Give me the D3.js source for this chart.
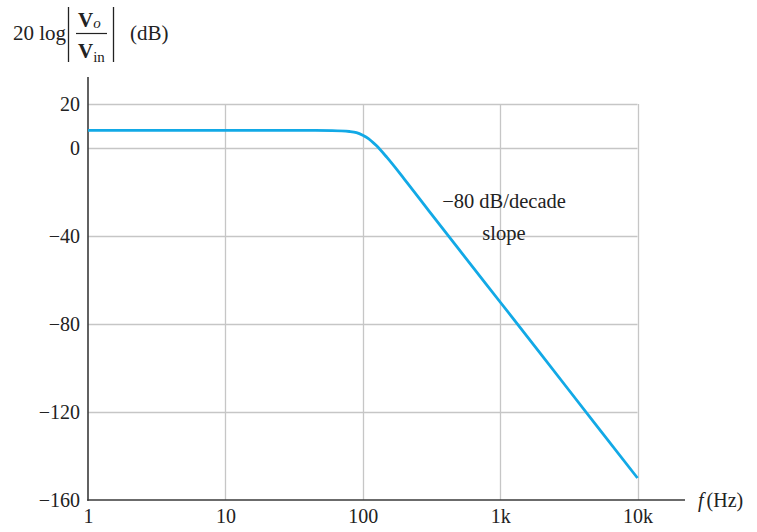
<!DOCTYPE html>
<html>
<head>
<meta charset="utf-8">
<script src="https://cdn.jsdelivr.net/npm/d3@7"></script>
<style>
  html, body { margin: 0; padding: 0; background: #fff; }
  svg { display: block; font-family: "Liberation Serif", "DejaVu Serif", serif; }
  svg text { font-family: "Liberation Serif", "DejaVu Serif", serif; }
</style>
</head>
<body>
<svg id="chart" width="757" height="532"></svg>
<script>
// ---- data ----
const freqHz = [1, 10, 40, 60, 80, 90, 100, 110, 125, 150, 200, 300, 500, 1000, 2000, 5000, 10000];
const gainDb = [8, 8, 8, 7.9, 7.5, 7.0, 5.8, 4.3, 1.2, -4.3, -14, -28.2, -46, -70, -94, -126, -150];
const xTickValues = [1, 10, 100, 1000, 10000];
const xTickLabels = ["1", "10", "100", "1k", "10k"];
const yTickValues = [20, 0, -40, -80, -120, -160];
const yTickLabels = ["20", "0", "\u221240", "\u221280", "\u2212120", "\u2212160"];
const annotationLines = ["\u221280 dB/decade", "slope"];

// ---- layout ----
const svg = d3.select("#chart");
const x = d3.scaleLog().domain([1, 10000]).range([88, 637.5]);
const y = d3.scaleLinear().domain([-160, 20]).range([500, 104]);
const gridColor = "#c6c6c6";
const axisColor = "#3a3a3a";
const curveColor = "#12a9e6";
const textColor = "#222";
const serif = '"Liberation Serif", "DejaVu Serif", serif';

// horizontal grid lines (except bottom, which is the axis)
svg.append("g").selectAll("line")
  .data(yTickValues.filter(v => v !== -160))
  .join("line")
  .attr("x1", x(1)).attr("x2", x(10000))
  .attr("y1", d => Math.round(y(d)) + 0.5).attr("y2", d => Math.round(y(d)) + 0.5)
  .attr("stroke", gridColor).attr("stroke-width", 1.3);

// vertical grid lines
svg.append("g").selectAll("line")
  .data(xTickValues.filter(v => v !== 1))
  .join("line")
  .attr("x1", d => Math.round(x(d)) + 0.5).attr("x2", d => Math.round(x(d)) + 0.5)
  .attr("y1", y(20)).attr("y2", y(-160))
  .attr("stroke", gridColor).attr("stroke-width", 1.3);

// axes lines
svg.append("line")
  .attr("x1", x(1)).attr("x2", x(1))
  .attr("y1", 77).attr("y2", y(-160) + 0.8)
  .attr("stroke", axisColor).attr("stroke-width", 1.6);
svg.append("line")
  .attr("x1", x(1) - 0.8).attr("x2", 685)
  .attr("y1", y(-160)).attr("y2", y(-160))
  .attr("stroke", axisColor).attr("stroke-width", 1.6);

// y tick labels via axis
const yAxis = d3.axisLeft(y).tickValues(yTickValues).tickSize(0).tickPadding(8)
  .tickFormat((d, i) => yTickLabels[i]);
const gy = svg.append("g").attr("transform", `translate(${x(1)},0)`).call(yAxis);
gy.attr("font-family", null).attr("font-size", null);
gy.select(".domain").remove();
gy.selectAll("text")
  .style("font-family", serif).style("font-size", "20px").attr("fill", textColor)
  .attr("dy", "0.34em");

// x tick labels via axis
const xAxis = d3.axisBottom(x).tickValues(xTickValues).tickSize(0).tickPadding(9)
  .tickFormat((d, i) => xTickLabels[i]);
const gx = svg.append("g").attr("transform", `translate(0,${y(-160)})`).call(xAxis);
gx.attr("font-family", null).attr("font-size", null);
gx.select(".domain").remove();
gx.selectAll("text")
  .style("font-family", serif).style("font-size", "20px").attr("fill", textColor);

// curve
const pts = freqHz.map((f, i) => [f, gainDb[i]]);
const line = d3.line().x(d => x(d[0])).y(d => y(d[1])).curve(d3.curveMonotoneX);
svg.append("path").datum(pts)
  .attr("d", line).attr("fill", "none")
  .attr("stroke", curveColor).attr("stroke-width", 2.8).attr("stroke-linejoin", "round");

// annotation
svg.append("g").selectAll("text")
  .data(annotationLines)
  .join("text")
  .attr("x", 504).attr("y", (d, i) => 208 + i * 32)
  .attr("text-anchor", "middle")
  .style("font-size", "20.5px").attr("fill", textColor)
  .text(d => d);

// x axis title
const xt = svg.append("text").attr("x", 698).attr("y", 507).style("font-size", "20px").attr("fill", textColor);
xt.append("tspan").attr("font-style", "italic").text("f");
xt.append("tspan").attr("dx", 3).text("(Hz)");

// y axis title: 20 log |Vo / Vin| (dB)
const t = svg.append("g").attr("fill", textColor);
t.append("text").attr("x", 13).attr("y", 40).style("font-size", "21px").text("20 log");
t.append("line").attr("x1", 68.5).attr("x2", 68.5).attr("y1", 7).attr("y2", 62)
  .attr("stroke", textColor).attr("stroke-width", 1.3);
t.append("line").attr("x1", 113.5).attr("x2", 113.5).attr("y1", 7).attr("y2", 62)
  .attr("stroke", textColor).attr("stroke-width", 1.3);
t.append("line").attr("x1", 76).attr("x2", 107).attr("y1", 33.5).attr("y2", 33.5)
  .attr("stroke", textColor).attr("stroke-width", 1.2);
const num = t.append("text").attr("x", 78).attr("y", 27).style("font-size", "21px");
num.append("tspan").attr("font-weight", "bold").text("V");
num.append("tspan").attr("font-style", "italic").style("font-size", "15px").attr("dy", 1).text("o");
const den = t.append("text").attr("x", 78).attr("y", 58).style("font-size", "21px");
den.append("tspan").attr("font-weight", "bold").text("V");
den.append("tspan").style("font-size", "15px").attr("dy", 4).text("in");
t.append("text").attr("x", 130).attr("y", 40).style("font-size", "21px").text("(dB)");
</script>
</body>
</html>
